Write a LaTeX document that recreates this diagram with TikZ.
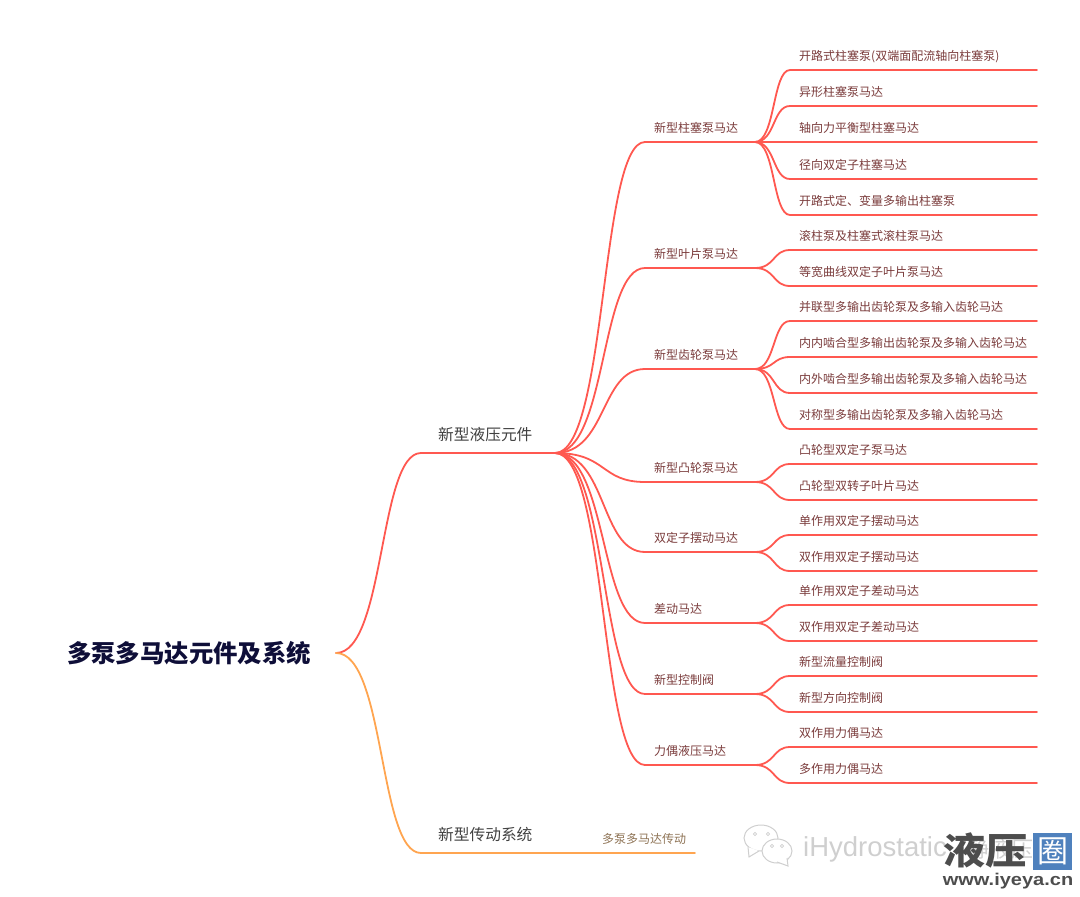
\documentclass[tikz,border=0pt]{standalone}
\usepackage{fontspec}
\usepackage{xcolor}
\usepackage{graphicx}
\setmainfont{Noto Sans CJK SC}
\setsansfont{Liberation Sans}
\usetikzlibrary{calc}
\definecolor{redline}{HTML}{FF5850}
\definecolor{orangeline}{HTML}{FFA550}
\definecolor{redtext}{HTML}{7A3B3B}
\definecolor{browntext}{HTML}{8E7355}
\definecolor{roottext}{HTML}{0E0E38}
\definecolor{marktext}{HTML}{CFCFCF}
\definecolor{markdark}{HTML}{4D4D4D}
\definecolor{markblue}{HTML}{4F81BD}
\tikzstyle{rootbox} = [inner sep=0pt, text=roottext, font=\fontsize{24.4}{24.4}\selectfont\bfseries]
\tikzstyle{groupbox} = [anchor=south west, inner sep=0pt, minimum height=37pt, text width=117pt,
  text=black!75, font=\fontsize{15.7}{16}\selectfont]
\tikzstyle{kindbox} = [anchor=south west, inner sep=0pt, minimum height=27pt,
  text width=101pt, text=redtext, font=\fontsize{12}{12}\selectfont]
\tikzstyle{leafbox} = [anchor=south west, inner sep=0pt, minimum height=27pt,
  text width=238pt, text=redtext, font=\fontsize{12}{12}\selectfont]
\tikzstyle{branch} = [line width=1.8pt, line cap=round, to path={
  .. controls ($(\tikztostart)!0.58!(\tikztotarget |- \tikztostart)$)
  and ($(\tikztotarget)!0.5!(\tikztostart |- \tikztotarget)$) .. (\tikztotarget) \tikztonodes}]
\tikzstyle{bubble} = [draw=marktext, fill=white, line width=1pt]
\begin{document}
\begin{tikzpicture}[x=1pt,y=-1pt]
  \useasboundingbox (0,0) rectangle (1080,897);
  % root and the two groups
  \node [rootbox] (root) at (189,653) {多泵多马达元件及系统};
  \coordinate (roothub) at (336,653);
  \node [groupbox, xshift=22pt] (hydro) at (416,453) {新型液压元件};
  \node [groupbox, xshift=22pt] (drive) at (416,853) {新型传动系统};
  \coordinate (hydrostart) at (421,453);
  \coordinate (hydrohub) at (555,453);
  \coordinate (drivestart) at (421,853);
  \node [leafbox, text width=93pt, text=browntext, xshift=47pt] (multi) at (555,853) {多泵多马达传动};
  \coordinate (driveend) at (695,853);
  \draw [redline, branch] (roothub) to (hydrostart) -- (hydrohub);
  \draw [orangeline, branch] (roothub) to (drivestart) -- (driveend);

  % second level
  \foreach \name/\y/\txt in {piston/142/新型柱塞泵马达, vane/268/新型叶片泵马达, gear/369/新型齿轮泵马达,
      cam/482/新型凸轮泵马达, swing/552/双定子摆动马达, diff/623/差动马达,
      valve/694/新型控制阀, couple/765/力偶液压马达} {
    \node [kindbox, xshift=14pt] (\name) at (640,\y) {\txt};
    \coordinate (\name start) at (645,\y);
    \coordinate (\name hub) at (755,\y);
    \draw [redline, branch] (hydrohub) to (\name start) -- (\name hub);
  }

  % third level
  \foreach \name/\parent/\y/\txt in {
      a/piston/70/开路式柱塞泵(双端面配流轴向柱塞泵), b/piston/106/异形柱塞泵马达,
      c/piston/142/轴向力平衡型柱塞马达, d/piston/179/径向双定子柱塞马达,
      e/piston/215/开路式定、变量多输出柱塞泵,
      f/vane/250/滚柱泵及柱塞式滚柱泵马达, g/vane/286/等宽曲线双定子叶片泵马达,
      h/gear/321/并联型多输出齿轮泵及多输入齿轮马达, i/gear/357/内内啮合型多输出齿轮泵及多输入齿轮马达,
      j/gear/393/内外啮合型多输出齿轮泵及多输入齿轮马达, k/gear/429/对称型多输出齿轮泵及多输入齿轮马达,
      l/cam/464/凸轮型双定子泵马达, m/cam/500/凸轮型双转子叶片马达,
      n/swing/535/单作用双定子摆动马达, o/swing/571/双作用双定子摆动马达,
      p/diff/605/单作用双定子差动马达, q/diff/641/双作用双定子差动马达,
      r/valve/676/新型流量控制阀, s/valve/712/新型方向控制阀,
      t/couple/747/双作用力偶马达, u/couple/783/多作用力偶马达} {
    \node [leafbox, xshift=14pt] (\name) at (785,\y) {\txt};
    \coordinate (\name start) at (790,\y);
    \coordinate (\name end) at (1037,\y);
    \draw [redline, branch] (\parent hub) to (\name start) -- (\name end);
  }

  % watermark
  \draw [bubble] (761,838) ellipse (17pt and 13pt);
  \draw [bubble] (748,847) -- (749,857) -- (759,851);
  \draw [bubble] (777,851) ellipse (15pt and 12pt);
  \draw [bubble] (777,862) -- (788,866) -- (787,858);
  \foreach \ex/\ey in {755/834, 768/834, 772/846, 782/846} {
    \draw [marktext, line width=0.7pt] (\ex,\ey) circle (1.6pt);
  }
  \node [inner sep=0pt, text=marktext, font=\sffamily\fontsize{27.5}{28}\selectfont] (mark) at (875,849) {iHydrostatic};
  \node [inner sep=0pt, text=marktext, font=\fontsize{22}{22}\selectfont] (markcn) at (1000,849) {静液压};
  \node [inner sep=0pt, text=markdark, font=\fontsize{42}{42}\selectfont\bfseries] (yeya) at (985,850.5) {\scalebox{1}[0.88]{液压}};
  \node [fill=markblue, inner sep=0pt, minimum width=39pt, minimum height=37pt, text=white,
    font=\fontsize{31}{31}\selectfont] (quan) at (1052.5,851.5) {圈};
  \node [inner sep=0pt, text=markdark, font=\sffamily\bfseries\fontsize{20}{20}\selectfont] (site) at (1008,881) {\scalebox{1}[0.85]{www.iyeya.cn}};
\end{tikzpicture}
\end{document}
